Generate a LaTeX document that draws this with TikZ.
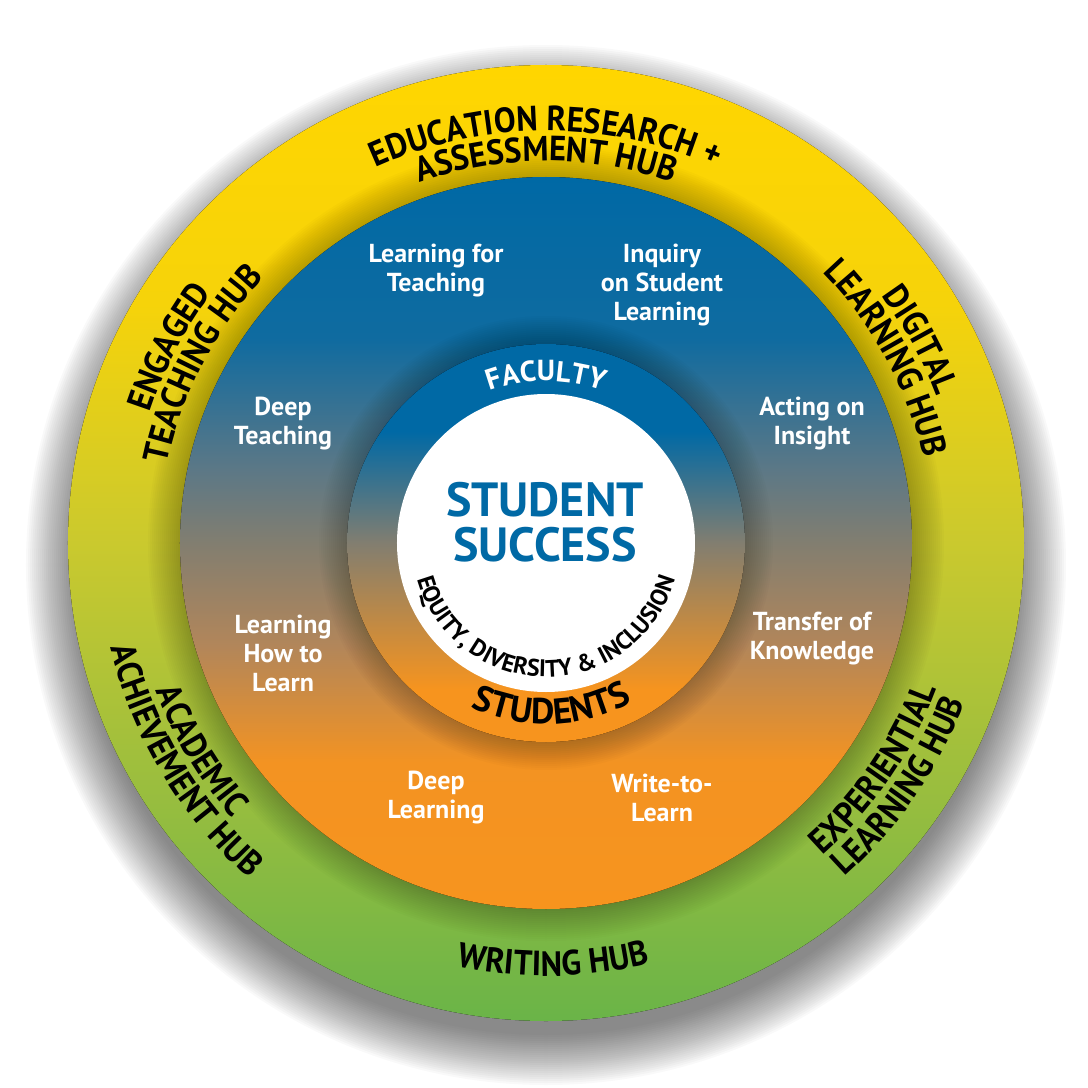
\documentclass[tikz,border=0pt]{standalone}
\usepackage{fontspec}
\setmainfont{PT Sans}
\newfontfamily\hubfamily{PT Sans}[FakeStretch=0.93]
\usetikzlibrary{decorations.text}

\definecolor{hubyellow}{RGB}{255,214,0}
\definecolor{hubgold}{RGB}{246,211,10}
\definecolor{hubolive}{RGB}{202,201,46}
\definecolor{hubleaf}{RGB}{155,190,62}
\definecolor{hubgreen}{RGB}{106,180,72}
\definecolor{discblue}{RGB}{0,105,165}
\definecolor{discsky}{RGB}{15,107,160}
\definecolor{discslate}{RGB}{92,120,134}
\definecolor{discgray}{RGB}{130,126,112}
\definecolor{disctan}{RGB}{178,134,90}
\definecolor{discamber}{RGB}{243,147,34}
\definecolor{discorange}{RGB}{247,148,30}

% vertical shadings, the path box runs from 25bp to 75bp
\pgfdeclareverticalshading{hubring}{100bp}{color(0bp)=(hubgreen); color(25bp)=(hubgreen);
  color(37.5bp)=(hubleaf); color(50bp)=(hubolive); color(62.5bp)=(hubgold);
  color(75bp)=(hubyellow); color(100bp)=(hubyellow)}
\pgfdeclareverticalshading{middisc}{100bp}{color(0bp)=(discorange); color(25bp)=(discorange);
  color(35bp)=(discamber); color(43bp)=(disctan); color(50bp)=(discgray);
  color(55bp)=(discslate); color(64bp)=(discsky); color(75bp)=(discblue); color(100bp)=(discblue)}
\pgfdeclareverticalshading{innerring}{100bp}{color(0bp)=(discorange); color(31.5bp)=(discorange);
  color(50bp)=(discgray); color(64bp)=(discblue); color(100bp)=(discblue)}

\newcommand\hubfont{\hubfamily\fontsize{35}{35}\selectfont\bfseries}
\newcommand\areafont{\fontsize{26}{29}\selectfont\bfseries}
\newcommand\corefont{\fontsize{48}{45}\selectfont\bfseries}
\newcommand\facfont{\fontsize{29}{29}\selectfont\bfseries}
\newcommand\stufont{\fontsize{36}{36}\selectfont\bfseries}
\newcommand\edifont{\fontsize{24}{24}\selectfont\bfseries}

\tikzset{
  hubtext/.style={decorate, decoration={text along path, text align=center, text={|\hubfont|#1}}},
  factext/.style={decorate, decoration={text along path, text align=center, text color=white, text={|\facfont|#1}}},
  stutext/.style={decorate, decoration={text along path, text align=center, text={|\stufont|#1}}},
  editext/.style={decorate, decoration={text along path, text align=center, text={|\edifont|#1}}},
  area/.style={text=white, font=\areafont, align=center, inner sep=0pt}
}

\begin{document}
\begin{tikzpicture}[x=1pt, y=1pt]
  \useasboundingbox (-546,-545) rectangle (542,543);
  \coordinate (c) at (0,0);

  % soft shadow round the whole disc
  \foreach \r in {470,472,...,520}
    \fill[black, opacity=0.022] (0,-22) circle[radius=\r];

  % hub ring
  \fill[shading=hubring] (c) circle[radius=478];
  \foreach \r in {368,370,...,398}
    \fill[black, opacity=0.014] (c) circle[radius=\r];

  % faculty / students disc
  \fill[shading=middisc] (c) circle[radius=366];
  \foreach \r in {201,203,...,227}
    \fill[black, opacity=0.014] (c) circle[radius=\r];

  % inner ring and core
  \fill[shading=innerring] (c) circle[radius=199];
  \fill[white] (c) circle[radius=149];

  % hub names, tops outward
  \path[hubtext={EDUCATION RESEARCH +}] (150:412) arc[start angle=150, end angle=30, radius=412];
  \path[hubtext={ASSESSMENT HUB}] (150:382) arc[start angle=150, end angle=30, radius=382];
  \path[hubtext={ENGAGED}] (205:417) arc[start angle=205, end angle=100, radius=417];
  \path[hubtext={TEACHING HUB}] (205:387) arc[start angle=205, end angle=100, radius=387];
  \path[hubtext={DIGITAL}] (80:417) arc[start angle=80, end angle=-23, radius=417];
  \path[hubtext={LEARNING HUB}] (80:387) arc[start angle=80, end angle=-23, radius=387];

  % hub names, tops inward
  \path[hubtext={WRITING HUB}] (211:433) arc[start angle=211, end angle=331, radius=433];
  \path[hubtext={ACADEMIC}] (160:417) arc[start angle=160, end angle=262, radius=417];
  \path[hubtext={ACHIEVEMENT HUB}] (160:448) arc[start angle=160, end angle=262, radius=448];
  \path[hubtext={EXPERIENTIAL}] (274:417) arc[start angle=274, end angle=377, radius=417];
  \path[hubtext={LEARNING HUB}] (274:448) arc[start angle=274, end angle=377, radius=448];

  % inner ring words
  \path[factext={FACULTY}] (150:162) arc[start angle=150, end angle=30, radius=162];
  \path[stutext={STUDENTS}] (212:181) arc[start angle=212, end angle=332, radius=181];
  \path[editext={EQUITY, DIVERSITY {\&} INCLUSION}] (185:134) arc[start angle=185, end angle=355, radius=134];

  % practice areas
  \node[area] (learnteach) at (-110,272) {Learning for\\Teaching};
  \node[area] (inquiry) at (116,258) {Inquiry\\on Student\\Learning};
  \node[area] (deepteach) at (-263,119) {Deep\\Teaching};
  \node[area] (acting) at (266,119) {Acting on\\Insight};
  \node[area] (howlearn) at (-263,-110) {Learning\\How to\\Learn};
  \node[area] (transfer) at (266,-96) {Transfer of\\Knowledge};
  \node[area] (deeplearn) at (-110,-255) {Deep\\Learning};
  \node[area] (write) at (116,-255) {Write-to-\\Learn};

  \node[font=\corefont, text=discblue, align=center, inner sep=0pt] (core) at (-1,21) {STUDENT\\SUCCESS};
\end{tikzpicture}
\end{document}
